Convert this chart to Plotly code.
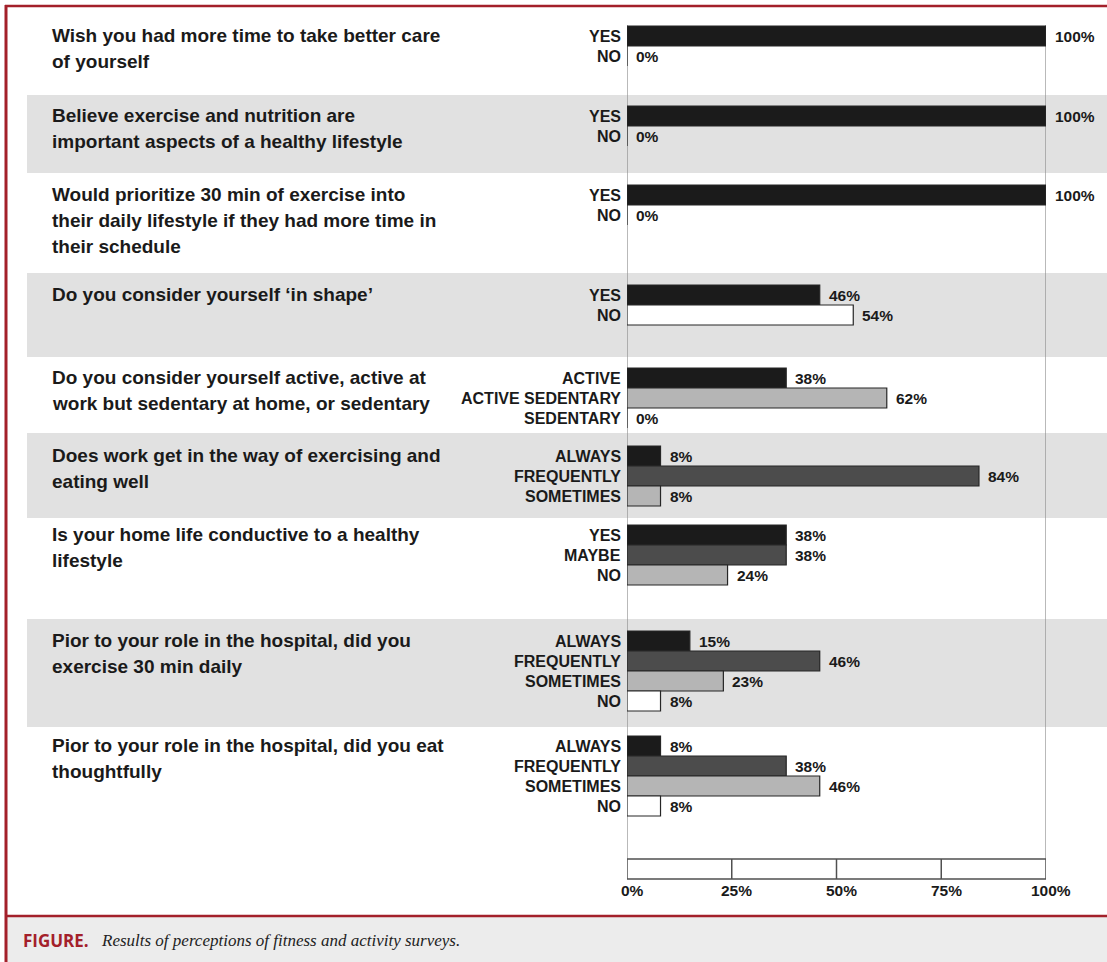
import plotly.graph_objects as go

# ---------------- data ----------------
questions = [
    ["Wish you had more time to take better care", "of yourself"],
    ["Believe exercise and nutrition are", "important aspects of a healthy lifestyle"],
    ["Would prioritize 30 min of exercise into", "their daily lifestyle if they had more time in", "their schedule"],
    ["Do you consider yourself \u2018in shape\u2019"],
    ["Do you consider yourself active, active at", "work but sedentary at home, or sedentary"],
    ["Does work get in the way of exercising and", "eating well"],
    ["Is your home life conductive to a healthy", "lifestyle"],
    ["Pior to your role in the hospital, did you", "exercise 30 min daily"],
    ["Pior to your role in the hospital, did you eat", "thoughtfully"],
]
options = [
    ["YES", "NO"],
    ["YES", "NO"],
    ["YES", "NO"],
    ["YES", "NO"],
    ["ACTIVE", "ACTIVE SEDENTARY", "SEDENTARY"],
    ["ALWAYS", "FREQUENTLY", "SOMETIMES"],
    ["YES", "MAYBE", "NO"],
    ["ALWAYS", "FREQUENTLY", "SOMETIMES", "NO"],
    ["ALWAYS", "FREQUENTLY", "SOMETIMES", "NO"],
]
values = [
    [100, 0],
    [100, 0],
    [100, 0],
    [46, 54],
    [38, 62, 0],
    [8, 84, 8],
    [38, 38, 24],
    [15, 46, 23, 8],
    [8, 38, 46, 8],
]
tick_vals = [0, 25, 50, 75, 100]
tick_text = ["0%", "25%", "50%", "75%", "100%"]
caption_label = "FIGURE."
caption_text = "Results of perceptions of fitness and activity surveys."

# ---------------- styles / layout ----------------
W, H = 1107, 962
BLACK, DARK, LIGHT, WHITE = "#1b1b1b", "#4c4c4c", "#b5b5b5", "#ffffff"
RED = "#a3202a"
fills = [
    [BLACK, WHITE], [BLACK, WHITE], [BLACK, WHITE], [BLACK, WHITE],
    [BLACK, LIGHT, LIGHT], [BLACK, DARK, LIGHT], [BLACK, DARK, LIGHT],
    [BLACK, DARK, LIGHT, WHITE], [BLACK, DARK, LIGHT, WHITE],
]
group_center = [36, 116, 195, 295, 378, 456, 535, 641, 746]   # px of first bar in each group
band_top = [6, 95, 173, 273, 357, 433, 518, 619, 727]
band_end = 858
STEP = 20
LINE_H = 26
X0_PX, X1_PX = 627, 1046
SANS = "Liberation Sans, Arial, Helvetica, sans-serif"
TXT = "#1a1a1a"
LAB_FS = 16
Q_FS = 19


def px(x):
    return x / W


ys, xs, cols = [], [], []
annotations = []
for g, (opts, vals, fl) in enumerate(zip(options, values, fills)):
    for i, (o, v, c) in enumerate(zip(opts, vals, fl)):
        y = group_center[g] + STEP * i
        ys.append(y); xs.append(v); cols.append(c)
        annotations.append(dict(x=0, y=y, xref="x", yref="y", text=o, showarrow=False,
                                xanchor="right", yanchor="middle", xshift=-4,
                                font=dict(family=SANS, size=LAB_FS, color=TXT, weight="bold")))
        annotations.append(dict(x=v, y=y, xref="x", yref="y", text=f"{v}%", showarrow=False,
                                xanchor="left", yanchor="middle", xshift=7,
                                font=dict(family=SANS, size=15.5, color=TXT, weight="bold")))
    for k, line in enumerate(questions[g]):
        annotations.append(dict(x=px(50), y=group_center[g] - 1 + LINE_H * k, xref="paper", yref="y",
                                text=line, showarrow=False, align="left",
                                xanchor="left", yanchor="middle",
                                font=dict(family=SANS, size=Q_FS, color=TXT, weight="bold")))

fig = go.Figure(go.Bar(
    x=xs, y=ys, orientation="h", width=STEP,
    marker=dict(color=cols, line=dict(color="#262626", width=1.2)),
    hoverinfo="skip", cliponaxis=False,
))

shapes = []
# alternating bands
for g in range(len(band_top)):
    if g % 2 == 1:
        y1 = band_top[g + 1] if g + 1 < len(band_top) else band_end
        shapes.append(dict(type="rect", xref="paper", yref="y", x0=px(27), x1=1,
                           y0=band_top[g], y1=y1, fillcolor="#e1e1e1", line_width=0, layer="below"))
# vertical frame lines
for xv in (0, 100):
    shapes.append(dict(type="line", xref="x", yref="y", x0=xv, x1=xv, y0=25, y1=859,
                       line=dict(color="#8a8a8a", width=1.2), layer="below"))
# bottom scale box
shapes.append(dict(type="rect", xref="x", yref="y", x0=0, x1=100, y0=859, y1=879,
                   line=dict(color="#505050", width=1.5), fillcolor="rgba(0,0,0,0)"))
for tv in tick_vals[1:-1]:
    shapes.append(dict(type="line", xref="x", yref="y", x0=tv, x1=tv, y0=859, y1=879,
                       line=dict(color="#505050", width=1.5)))
for tv, tt in zip(tick_vals, tick_text):
    annotations.append(dict(x=tv, y=890, xref="x", yref="y", text=tt, showarrow=False,
                            xanchor="center", yanchor="middle", xshift=5,
                            font=dict(family=SANS, size=15.5, color=TXT, weight="bold")))
# caption area
shapes.append(dict(type="rect", xref="paper", yref="y", x0=px(6), x1=1, y0=916, y1=H,
                   fillcolor="#ececec", line_width=0))
shapes.append(dict(type="line", xref="paper", yref="y", x0=px(5), x1=1, y0=916, y1=916,
                   line=dict(color=RED, width=2.5)))
# red frame
shapes.append(dict(type="line", xref="paper", yref="y", x0=px(5), x1=1, y0=6, y1=6,
                   line=dict(color=RED, width=2.5)))
shapes.append(dict(type="line", xref="paper", yref="y", x0=px(6), x1=px(6), y0=5, y1=H,
                   line=dict(color=RED, width=3)))

annotations.append(dict(x=px(21), y=940, xref="paper", yref="y", text=caption_label, showarrow=False,
                        xanchor="left", yanchor="middle",
                        font=dict(family="Open Sans, sans-serif", size=17, color=RED, weight="bold")))
annotations.append(dict(x=px(99), y=940, xref="paper", yref="y", text=caption_text, showarrow=False,
                        xanchor="left", yanchor="middle",
                        font=dict(family="Liberation Serif, Times New Roman, serif", size=17,
                                  color="#222222", style="italic")))

fig.update_layout(
    width=W, height=H, margin=dict(l=0, r=0, t=0, b=0),
    paper_bgcolor="white", plot_bgcolor="rgba(0,0,0,0)",
    showlegend=False, hovermode=False,
    xaxis=dict(range=[0, 100], domain=[px(X0_PX), px(X1_PX)], visible=False, fixedrange=True),
    yaxis=dict(range=[H, 0], domain=[0, 1], visible=False, fixedrange=True),
    shapes=shapes, annotations=annotations,
)

fig.write_html("out.html", config={"displayModeBar": False},
               post_script="document.body.style.margin='0';")
